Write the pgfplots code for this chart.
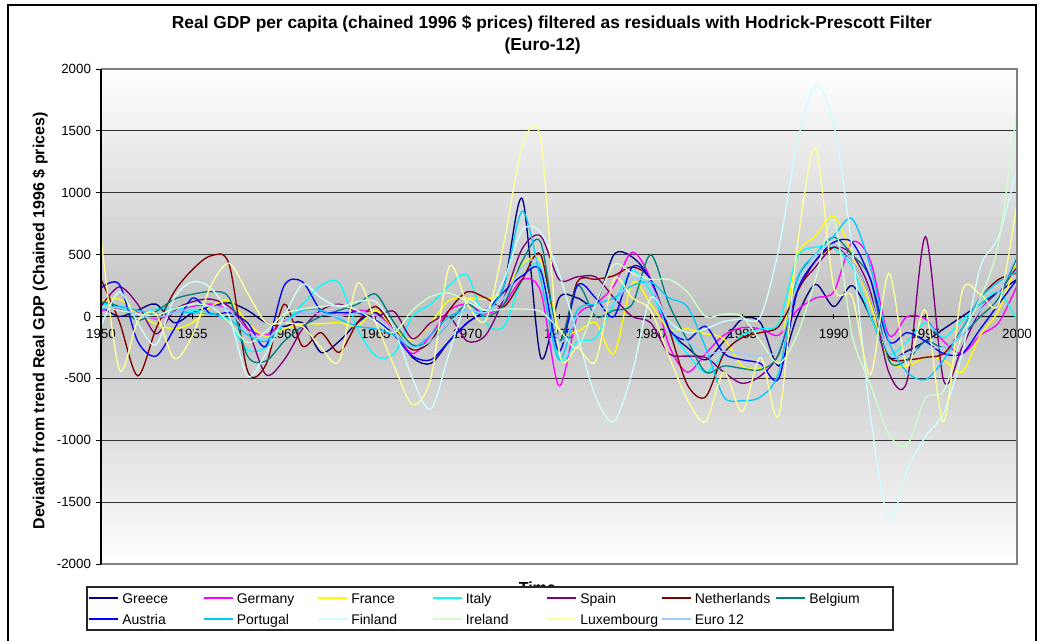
\documentclass[border=0pt]{standalone}
\usepackage{pgfplots}
\pgfplotsset{compat=1.18}
\usepackage{pgfplotstable}
\usepackage{fontspec}
\setmainfont{Liberation Sans}

\definecolor{cGr}{RGB}{0,0,128}
\definecolor{cDe}{RGB}{255,0,255}
\definecolor{cFr}{RGB}{255,255,0}
\definecolor{cIt}{RGB}{0,255,255}
\definecolor{cEs}{RGB}{128,0,128}
\definecolor{cNl}{RGB}{128,0,0}
\definecolor{cBe}{RGB}{0,128,128}
\definecolor{cAt}{RGB}{0,0,255}
\definecolor{cPt}{RGB}{0,204,255}
\definecolor{cFi}{RGB}{204,255,255}
\definecolor{cIe}{RGB}{204,255,204}
\definecolor{cLu}{RGB}{255,255,153}
\definecolor{cEu}{RGB}{153,204,255}
\definecolor{bandgray}{RGB}{192,192,192}

% HP-filter residuals of real GDP per capita (chained 1996 $)
\pgfplotstableread{
year  Gr    De    Fr    It    Es    Nl    Be    At    Pt    Fi     Ie     Lu     Eu
1950  80    50    120   100   80    300   120   230   60    -80    80     640    70
1951  0     60    140   80    240   -40   80    260   80    200    50     -430   70
1952  50    30    20    20    100   -480  -30   -200  50    -50    20     -40    10
1953  100   -20   -60   60    -140  -100  40    -320  20    -230   10     20     -10
1954  -50   30    -100  70    50    200   140   -100  40    150    60     -340   30
1955  30    80    -50   50    120   380   180   150   30    280    100    -150   70
1956  80    100   80    30    140   490   200   20    20    230    80     250    80
1957  110   50    130   -50   80    420   150   30    -20   0      -50    430    50
1958  50    -100  -50   -270  -100  -440  -320  -50   -150  -480   -210   190    -120
1959  -50   -150  -160  -250  -470  -390  -360  -240  -200  -300   -120   -50    -180
1960  -80   -40   -100  -50   -350  100   -200  250   -50   0      20     -50    -50
1961  -50   30    -60   100   -100  -240  -80   280   50    260    60     -80    30
1962  -290  20    -60   250   50    -130  0     50    50    150    80     -250   20
1963  -200  0     -50   270   100   -290  50    30    -20   80     90     -360   0
1964  -50   50    -80   -100  30    -50   100   30    -80   120    50     270    30
1965  30    20    50    -320  0     80    180   -30   -100  120    -40    -50    10
1966  -100  -120  -100  -300  40    -100  -50   -150  -150  -100   -130   -400   -120
1967  -330  -300  -190  0     -180  -270  -230  -320  -250  -500   50     -710   -250
1968  -380  -150  -50   100   -50   -200  -200  -350  -150  -750   160    -500   -200
1969  -200  50    130   250   0     50    -50   -200  0     -300   190    400    -50
1970  -50   100   150   330   -200  200   100   -50   50    130    120    100    50
1971  50    20    140   -50   -150  150   0     50    30    50     50     -30    30
1972  250   100   200   -80   150   80    100   200   250   300    60     600    150
1973  950   300   420   300   550   300   450   330   850   700    60     1380   400
1974  -330  200   450   400   650   500   600   370   300   680    40     1430   420
1975  150   -560  -100  -340  300   -200  -200  -280  -350  350    -100   -280   -200
1976  150   0     -120  -200  320   280   250   250   50    -150   -250   -250   0
1977  100   100   -50   -170  320   300   0     150   100   -650   100    -360   50
1978  500   250   -300  100   150   330   50    0     150   -850   420    300    100
1979  480   520   270   370   0     400   100   400   250   -450   350    150    300
1980  300   300   100   200   -50   300   500   300   280   150    300    50     250
1981  -100  -230  -100  -100  -300  -100  100   -100  150   -40    300    -320   -50
1982  -250  -450  -100  -300  -320  -550  -190  -190  80    -130   200    -670   -200
1983  -350  -300  -140  -450  -330  -650  -450  -80   -250  -100   0      -850   -300
1984  -200  -150  -180  -300  -450  -300  -400  -300  -650  -40    20     -450   -280
1985  -20   -90   -400  -150  -540  -170  -420  -350  -680  -20    0      -770   -300
1986  -50   -100  -420  -100  -480  -130  -430  -380  -650  0      -200   -330   -320
1987  -400  -150  -300  -50   -300  -80   -300  -500  -450  550    -380   -800   -250
1988  0     50    480   480   200   200   300   200   300   1400   -150   560    250
1989  260   150   650   560   400   450   500   450   500   1870   300    1360   500
1990  80    200   810   550   560   560   640   600   650   1550   780    240    580
1991  250   600   500   400   500   450   500   600   790   550    -150   160    450
1992  0     450   100   0     200   150   300   300   400   -800   -550   -470   150
1993  -330  -150  -350  -300  -450  -320  -350  -200  -200  -1640  -950   350    -300
1994  -280  0     -400  -200  -520  -350  -350  -130  -450  -1240  -1040  -400   -300
1995  -200  -20   -330  -50   645   -330  -200  -200  -510  -970   -660   50     -250
1996  -100  -200  -350  -170  -520  -300  -250  -300  -350  -780   -600   -850   -250
1997  0     -300  -450  -30   -250  -100  -150  -300  -100  -300   -150   200    -150
1998  100   -150  -150  100   50    150   0     -100  150   400    150    180    50
1999  200   -50   50    200   200   300   150   100   280   650    600    100    200
2000  300   250   450   -30   400   350   480   300   360   1200   1680   920    500
}\gdp

\pgfplotsset{
  ser/.style={line width=1pt, smooth, tension=0.5, mark=none},
}

\begin{document}
\begin{tikzpicture}[x=1pt,y=1pt]
\path[use as bounding box] (0,0) rectangle (781.5,480.75);
% chart frame
\draw[line width=1.5pt] (6,0) -- (6,477) -- (777,477) -- (777,0);
% plot-area background: grey band around zero fading to white, in thin strips
\foreach \i in {0,...,99}{
  \pgfmathsetmacro{\yl}{57.75+\i*3.7125}
  \pgfmathtruncatemacro{\shadepct}{100*(1-abs(\yl+1.85625-243.375)/185.625)}
  \fill[bandgray!\shadepct!white] (75.75,\yl) rectangle (762.75,\yl+3.8);
}
% titles
\node[font=\bfseries\fontsize{13}{15}\selectfont] at (414,462.75) {Real GDP per capita (chained 1996 \$ prices) filtered as residuals with Hodrick-Prescott Filter};
\node[font=\bfseries\fontsize{13}{15}\selectfont] at (407,446.25) {(Euro-12)};
\node[font=\bfseries\fontsize{12}{14}\selectfont, rotate=90] at (30,240) {Deviation from trend Real GDP (Chained 1996 \$ prices)};
\node[font=\bfseries\fontsize{12}{14}\selectfont] at (403,39.8) {Time};

\begin{axis}[
  at={(75.75pt,57.75pt)}, anchor=south west, scale only axis,
  width=687pt, height=371.25pt,
  xmin=1950, xmax=2000, ymin=-2000, ymax=2000,
  axis x line*=middle, axis y line*=left,
  hide obscured x ticks=false,
  axis line style={black, line width=0.8pt},
  xtick={1950,1955,...,2000},
  ytick={-2000,-1500,...,2000},
  ymajorgrids,
  major grid style={black!80, line width=0.75pt},
  tick style={black, line width=0.6pt},
  major tick length=4pt,
  ytick align=outside,
  xtick align=center,
  ticklabel style={font=\fontsize{10}{12}\selectfont},
  /pgf/number format/assume math mode=true,
  /pgf/number format/1000 sep={},
  xticklabel style={yshift=-4pt},
  after end axis/.code={
    \draw[gray, line width=0.8pt] (rel axis cs:0,1) -- (rel axis cs:1,1) -- (rel axis cs:1,0) -- (rel axis cs:0,0);
    \draw[black, line width=0.8pt] (rel axis cs:0,0) -- (rel axis cs:0,1);
  },
]
\addplot[ser, cGr] table[x=year, y=Gr] {\gdp};
\addplot[ser, cDe] table[x=year, y=De] {\gdp};
\addplot[ser, cFr] table[x=year, y=Fr] {\gdp};
\addplot[ser, cIt] table[x=year, y=It] {\gdp};
\addplot[ser, cEs] table[x=year, y=Es] {\gdp};
\addplot[ser, cNl] table[x=year, y=Nl] {\gdp};
\addplot[ser, cBe] table[x=year, y=Be] {\gdp};
\addplot[ser, cAt] table[x=year, y=At] {\gdp};
\addplot[ser, cPt] table[x=year, y=Pt] {\gdp};
\addplot[ser, cFi] table[x=year, y=Fi] {\gdp};
\addplot[ser, cIe] table[x=year, y=Ie] {\gdp};
\addplot[ser, cLu] table[x=year, y=Lu] {\gdp};
\addplot[ser, cEu] table[x=year, y=Eu] {\gdp};
\end{axis}

% legend: 7 columns, 2 rows
\filldraw[fill=white, draw=black!85, line width=0.8pt] (65.25,8.25) rectangle (669.75,40.5);
\foreach \col/\name/\k/\r in {cGr/Greece/0/0, cDe/Germany/1/0, cFr/France/2/0, cIt/Italy/3/0,
    cEs/Spain/4/0, cNl/Netherlands/5/0, cBe/Belgium/6/0,
    cAt/Austria/0/1, cPt/Portugal/1/1, cFi/Finland/2/1, cIe/Ireland/3/1,
    cLu/Luxembourg/4/1, cEu/Euro 12/5/1}{
  \draw[color=\col, line width=1pt] (66.75+85.875*\k, 32.25-15.75*\r) -- ++(21.75,0);
  \node[anchor=base west, inner sep=0pt, font=\fontsize{10.5}{12}\selectfont]
    at (91.5+85.875*\k, 28.4-15.75*\r) {\name};
}
\end{tikzpicture}
\end{document}
